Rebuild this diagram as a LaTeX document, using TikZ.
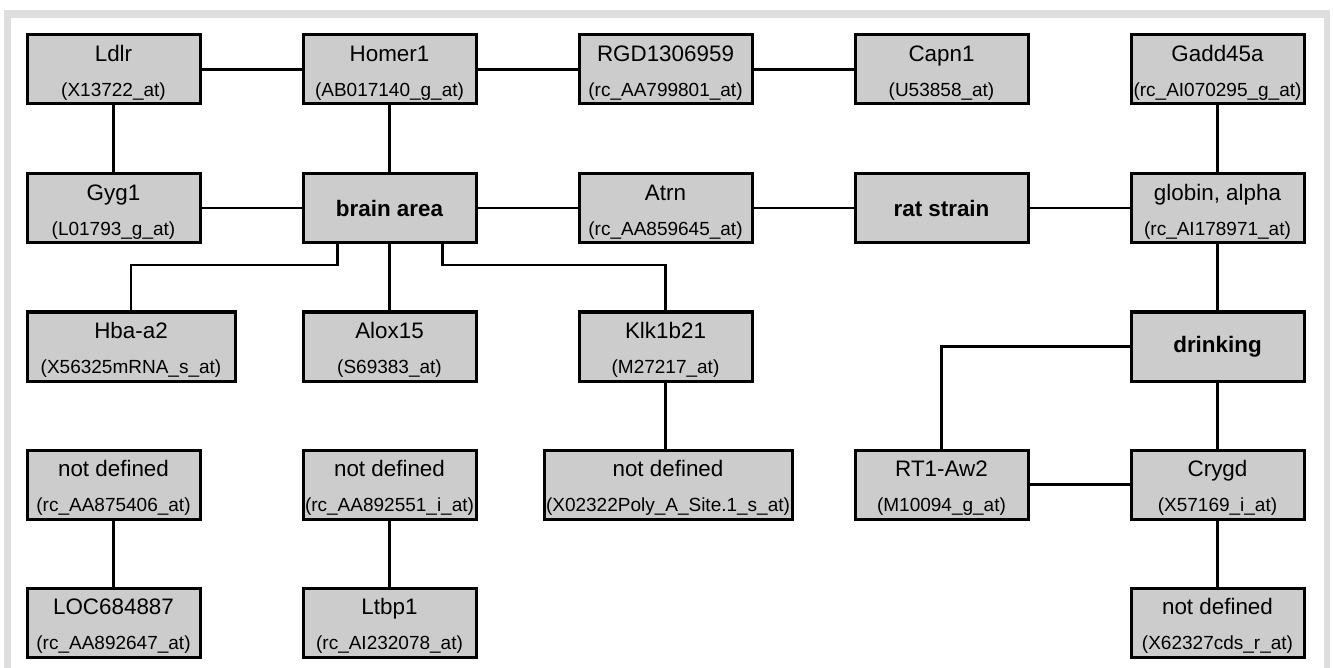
\documentclass[tikz,border=0pt]{standalone}
\usepackage{fontspec}
\setmainfont{Liberation Sans}
\usepackage{tikz}
\usetikzlibrary{positioning}
\definecolor{boxgray}{RGB}{204,204,204}
\definecolor{framegray}{RGB}{222,222,222}
\newcommand{\subfont}{\fontsize{9.5}{17.5}\selectfont}
\newcommand{\genelabel}[2]{\rule{0pt}{11.5pt}#1\\{\subfont(#2)}}
\begin{document}
\begin{tikzpicture}[x=0.5pt,y=-0.5pt]
\tikzset{genebox/.style={draw, line width=1.5pt, fill=boxgray, inner sep=0pt, minimum width=86.5pt, minimum height=34.5pt, align=center, font=\fontsize{11.2}{17.5}\selectfont},
factorbox/.style={genebox, font=\fontsize{11.2}{13}\selectfont\bfseries},
link/.style={line width=1.1pt}}
\useasboundingbox (0,0) rectangle (1333,668);
\fill [framegray] (4,10) rectangle (1330,668);
\fill [white] (11,18) rectangle (1324,668);
\node [genebox] (ldlr) at (113.5,69.5) {\genelabel{Ldlr}{X13722\_at}};
\node [genebox] (homer) at (389.5,69.5) {\genelabel{Homer1}{AB017140\_g\_at}};
\node [genebox] (rgd) at (665.5,69.5) {\genelabel{RGD1306959}{rc\_AA799801\_at}};
\node [genebox] (capn) at (941.5,69.5) {\genelabel{Capn1}{U53858\_at}};
\node [genebox] (gadd) at (1217.5,69.5) {\genelabel{Gadd45a}{rc\_AI070295\_g\_at}};
\node [genebox] (gyg) at (113.5,208) {\genelabel{Gyg1}{L01793\_g\_at}};
\node [factorbox] (brain) at (389.5,208) {brain area};
\node [genebox] (atrn) at (665.5,208) {\genelabel{Atrn}{rc\_AA859645\_at}};
\node [factorbox] (strain) at (941.5,208) {rat strain};
\node [genebox] (globin) at (1217.5,208) {\genelabel{globin, alpha}{rc\_AI178971\_at}};
\node [genebox, minimum width=104pt] (hba) at (131,346.5) {\genelabel{Hba-a2}{X56325mRNA\_s\_at}};
\node [genebox] (alox) at (389.5,346.5) {\genelabel{Alox15}{S69383\_at}};
\node [genebox] (klk) at (665.5,346.5) {\genelabel{Klk1b21}{M27217\_at}};
\node [factorbox] (drink) at (1217.5,346.5) {drinking};
\node [genebox] (undefA) at (113.5,484.5) {\genelabel{not defined}{rc\_AA875406\_at}};
\node [genebox] (undefB) at (389.5,484.5) {\genelabel{not defined}{rc\_AA892551\_i\_at}};
\node [genebox, minimum width=124pt] (undefC) at (668,484.5) {\genelabel{not defined}{X02322Poly\_A\_Site.1\_s\_at}};
\node [genebox] (rtaw) at (941.5,484.5) {\genelabel{RT1-Aw2}{M10094\_g\_at}};
\node [genebox] (crygd) at (1217.5,484.5) {\genelabel{Crygd}{X57169\_i\_at}};
\node [genebox] (loc) at (113.5,622.5) {\genelabel{LOC684887}{rc\_AA892647\_at}};
\node [genebox] (ltbp) at (389.5,622.5) {\genelabel{Ltbp1}{rc\_AI232078\_at}};
\node [genebox] (undefD) at (1217.5,622.5) {\genelabel{not defined}{X62327cds\_r\_at}};
\draw [link] (ldlr) -- (homer);
\draw [link] (homer) -- (rgd);
\draw [link] (rgd) -- (capn);
\draw [link] (ldlr) -- (gyg);
\draw [link] (homer) -- (brain);
\draw [link] (gadd) -- (globin);
\draw [link] (gyg) -- (brain);
\draw [link] (brain) -- (atrn);
\draw [link] (atrn) -- (strain);
\draw [link] (strain) -- (globin);
\draw [link] (globin) -- (drink);
\draw [link] ([xshift=18pt]brain.south west) -- ++(0,-10.5pt) -| (hba.north);
\draw [link] (brain) -- (alox);
\draw [link] ([xshift=-17.5pt]brain.south east) -- ++(0,-10.5pt) -| (klk.north);
\draw [link] (klk.south) -- (klk.south |- undefC.north);
\draw [link] (drink.west) -| (rtaw.north);
\draw [link] (rtaw) -- (crygd);
\draw [link] (drink) -- (crygd);
\draw [link] (crygd) -- (undefD);
\draw [link] (undefA) -- (loc);
\draw [link] (undefB) -- (ltbp);
\end{tikzpicture}
\end{document}
